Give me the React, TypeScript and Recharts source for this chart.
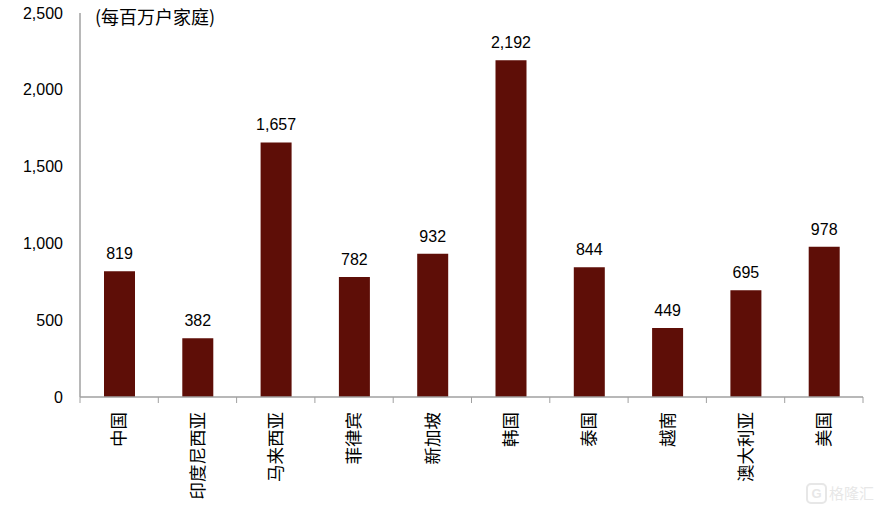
import { Bar, BarChart, LabelList, XAxis, YAxis } from "recharts";

const countries = ["中国", "印度尼西亚", "马来西亚", "菲律宾", "新加坡", "韩国", "泰国", "越南", "澳大利亚", "美国"];
const households = [819, 382, 1657, 782, 932, 2192, 844, 449, 695, 978];
const yTicks = [0, 500, 1000, 1500, 2000, 2500];

const BAR_COLOR = "#5E0E07";
const AXIS_COLOR = "#A0A0A0";
const NUM_FONT = "'Liberation Sans', Arial, sans-serif";
const CJK_FONT = "'Noto Sans CJK SC', sans-serif";

const chartData = countries.map((name, i) => ({ name, value: households[i] }));

const fmt = (v: number) => v.toLocaleString("en-US");

function CountryTick(props: any) {
  const { x, y, payload, index, visibleTicksCount } = props;
  const half = 78.3 / 2;
  const top = y - 6;
  return (
    <g>
      <line x1={x - half} y1={top} x2={x - half} y2={top + 6} stroke={AXIS_COLOR} />
      {index === visibleTicksCount - 1 && (
        <line x1={x + half} y1={top} x2={x + half} y2={top + 6} stroke={AXIS_COLOR} />
      )}
      <text
        x={x}
        y={top + 15}
        transform={`rotate(-90, ${x}, ${top + 15})`}
        textAnchor="end"
        dy="0.36em"
        fontSize={17.5}
        fontFamily={CJK_FONT}
        fill="#000"
      >
        {payload.value}
      </text>
    </g>
  );
}

export default function App() {
  return (
    <div style={{ position: "absolute", left: 0, top: 0, width: 882, height: 508, background: "#fff" }}>
      <BarChart
        width={882}
        height={508}
        data={chartData}
        margin={{ top: 13, right: 19, left: 0, bottom: 0 }}
        barCategoryGap={0}
      >
        <XAxis
          dataKey="name"
          height={111}
          axisLine={{ stroke: AXIS_COLOR, strokeWidth: 1.5 }}
          tickLine={false}
          tickSize={6}
          tickMargin={0}
          interval={0}
          tick={<CountryTick />}
        />
        <YAxis
          width={80}
          domain={[0, 2500]}
          ticks={yTicks}
          tickFormatter={fmt}
          axisLine={{ stroke: AXIS_COLOR, strokeWidth: 1.5 }}
          tickLine={false}
          tickSize={0}
          tickMargin={17}
          tick={{ fontSize: 16, fill: "#000", fontFamily: NUM_FONT }}
          interval={0}
        />
        <Bar dataKey="value" fill={BAR_COLOR} barSize={31} isAnimationActive={false}>
          <LabelList
            dataKey="value"
            position="top"
            offset={12}
            formatter={(v: any) => fmt(Number(v))}
            style={{ fontSize: 16, fill: "#000", fontFamily: NUM_FONT }}
          />
        </Bar>
        <text x={95} y={18} dy="0.36em" fontSize={18} fontFamily={CJK_FONT} fill="#000">
          (每百万户家庭)
        </text>
        <g opacity={0.35}>
          <rect x={807} y={484} width={19} height={19} rx={4} fill="none" stroke="#bbb" strokeWidth={2} />
          <text x={816.5} y={493.5} dy="0.36em" textAnchor="middle" fontSize={13} fontWeight="bold" fill="#bbb" fontFamily={NUM_FONT}>
            G
          </text>
          <text x={829} y={493.5} dy="0.36em" fontSize={15} fill="#bbb" fontFamily={CJK_FONT}>
            格隆汇
          </text>
        </g>
      </BarChart>
    </div>
  );
}
